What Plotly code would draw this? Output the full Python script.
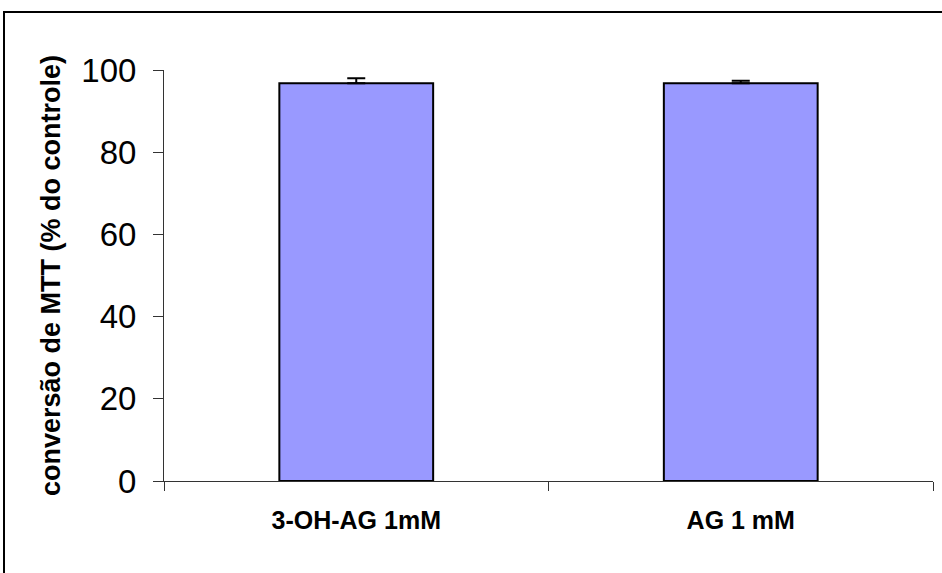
import plotly.graph_objects as go

# Data
categories = ["3-OH-AG 1mM", "AG 1 mM"]
values = [96.8, 96.8]
errors_plus = [1.2, 0.6]
y_ticks = [0, 20, 40, 60, 80, 100]

W, H = 942, 573
ML, MR, MT, MB = 164, 9, 70, 92
PW, PH = W - ML - MR, H - MT - MB

fig = go.Figure(
    go.Bar(
        x=categories,
        y=values,
        width=0.4,
        marker=dict(color="#9999FF", line=dict(color="black", width=2)),
        error_y=dict(
            type="data",
            symmetric=False,
            array=errors_plus,
            arrayminus=[0] * len(errors_plus),
            color="black",
            thickness=2,
            width=9,
        ),
    )
)

font_family = "Liberation Sans, Arial, sans-serif"

fig.update_layout(
    width=W,
    height=H,
    margin=dict(l=ML, r=MR, t=MT, b=MB),
    paper_bgcolor="white",
    plot_bgcolor="white",
    showlegend=False,
    font=dict(family=font_family, color="black"),
    xaxis=dict(
        type="category",
        tickson="boundaries",
        ticks="outside",
        ticklen=9,
        tickwidth=1,
        tickcolor="#333333",
        showline=True,
        linecolor="#333333",
        linewidth=1,
        showgrid=False,
        tickfont=dict(size=25, family=font_family, weight="bold"),
        ticklabelstandoff=17,
        range=[-0.5, 1.5],
    ),
    yaxis=dict(
        range=[0, 100],
        tickvals=y_ticks,
        ticks="outside",
        ticklen=10,
        tickwidth=1,
        tickcolor="#333333",
        showline=True,
        linecolor="#333333",
        linewidth=1,
        showgrid=False,
        zeroline=False,
        tickfont=dict(size=33, family=font_family),
        ticklabelstandoff=10,
        title=dict(
            text="conversão de MTT (% do controle)",
            font=dict(size=27, family=font_family, weight="bold"),
            standoff=12,
        ),
    ),
)

# Outer chart-area frame (extends past the right and bottom edges)
def px_to_paper_x(px):
    return (px - ML) / PW

def px_to_paper_y(py):
    return 1 - (py - MT) / PH

fig.add_shape(
    type="rect",
    xref="paper",
    yref="paper",
    x0=px_to_paper_x(4),
    x1=px_to_paper_x(W + 10),
    y0=px_to_paper_y(H + 10),
    y1=px_to_paper_y(12),
    line=dict(color="black", width=2),
    fillcolor="rgba(0,0,0,0)",
    layer="below",
)

fig.write_html("out.html")
